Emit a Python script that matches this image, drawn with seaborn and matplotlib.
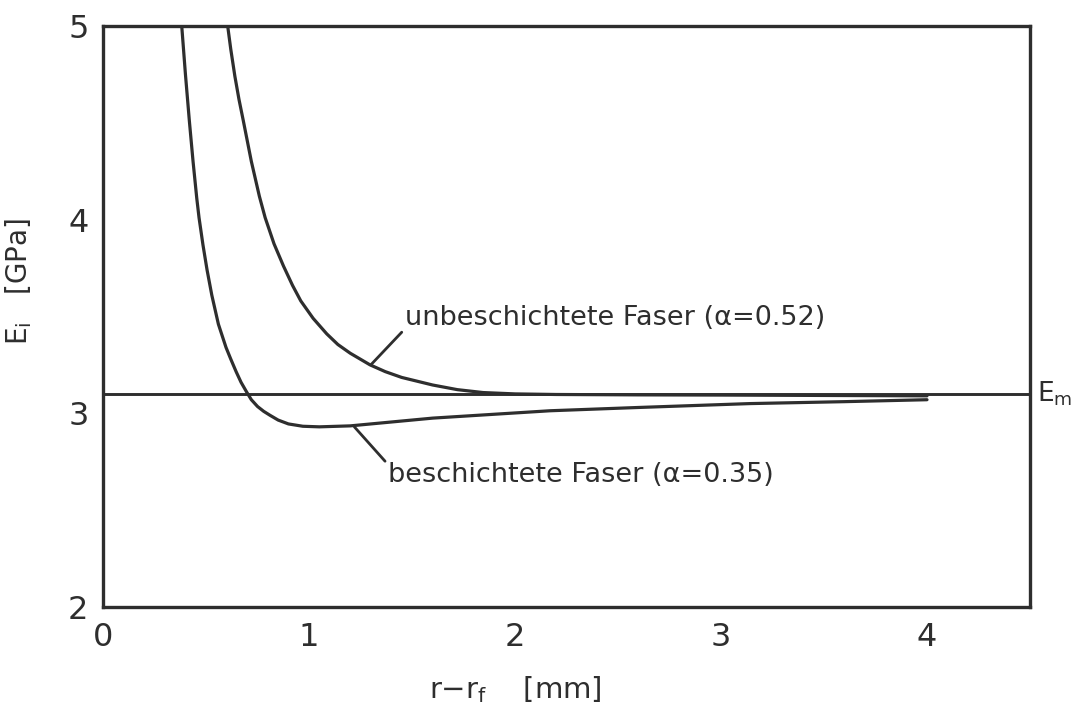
import matplotlib
matplotlib.use("Agg")
import matplotlib.pyplot as plt
import seaborn as sns
import pandas as pd

# Data
coated_x = [0.382, 0.40, 0.419, 0.437, 0.455, 0.466, 0.485, 0.505, 0.528, 0.56, 0.597, 0.62,
            0.646, 0.67, 0.697, 0.72, 0.75, 0.78, 0.81, 0.85, 0.90, 0.97, 1.05, 1.2, 1.4,
            1.6, 1.9, 2.17, 2.6, 3.14, 3.6, 4.0]
coated_y = [5.0, 4.75, 4.51, 4.30, 4.11, 4.01, 3.87, 3.74, 3.61, 3.46, 3.34, 3.28,
            3.215, 3.16, 3.11, 3.07, 3.035, 3.01, 2.99, 2.965, 2.945, 2.933, 2.93, 2.935, 2.955,
            2.975, 2.995, 3.013, 3.03, 3.05, 3.06, 3.07]

uncoated_x = [0.605, 0.62, 0.64, 0.66, 0.681, 0.72, 0.759, 0.787, 0.83, 0.876, 0.92, 0.96,
              1.02, 1.086, 1.14, 1.2, 1.296, 1.37, 1.45, 1.6, 1.72, 1.845, 2.0, 2.2, 2.6,
              3.0, 3.5, 4.0]
uncoated_y = [5.0, 4.88, 4.74, 4.62, 4.51, 4.30, 4.12, 4.01, 3.875, 3.76, 3.66, 3.58,
              3.49, 3.41, 3.355, 3.31, 3.25, 3.215, 3.185, 3.146, 3.122, 3.107, 3.10, 3.097, 3.095,
              3.094, 3.092, 3.09]

E_m = 3.1
x_ticks = [0, 1, 2, 3, 4]
y_ticks = [2, 3, 4, 5]

label_uncoated = "unbeschichtete Faser (α=0.52)"
label_coated = "beschichtete Faser (α=0.35)"

sns.set_style("white")
plt.rcParams['font.family'] = ['DejaVu Sans']

ink = "#2e2e2e"
fig = plt.figure(figsize=(10.8, 7.17), dpi=100)
ax = fig.add_axes([0.0954, 0.1534, 0.8583, 0.8106])

df_c = pd.DataFrame({"x": coated_x, "y": coated_y})
df_u = pd.DataFrame({"x": uncoated_x, "y": uncoated_y})
sns.lineplot(data=df_c, x="x", y="y", ax=ax, color=ink, lw=2.3, sort=False)
sns.lineplot(data=df_u, x="x", y="y", ax=ax, color=ink, lw=2.3, sort=False)
ax.axhline(E_m, color=ink, lw=2.1)

ax.set_xlim(0, 4.5)
ax.set_ylim(2, 5)
ax.set_xticks(x_ticks)
ax.set_yticks(y_ticks)
ax.set_xticklabels([str(v) for v in x_ticks])
ax.set_yticklabels([str(v) for v in y_ticks])
ax.tick_params(direction='inout', length=13, width=2, color=ink,
               labelsize=23, labelcolor=ink, pad=4)
for s in ax.spines.values():
    s.set_color(ink)
    s.set_linewidth(2.4)

ax.set_xlabel(r"r$-$r$_\mathrm{f}$    [mm]", fontsize=21, color=ink)
ax.xaxis.set_label_coords(0.445, -0.115)
ax.set_ylabel(r"E$_\mathrm{i}$   [GPa]", fontsize=20, color=ink)
ax.yaxis.set_label_coords(-0.075, 0.56)

# annotations
ax.annotate(label_uncoated, xy=(1.30, 3.25), xytext=(1.466, 3.49),
            fontsize=19.5, color=ink, va='center', ha='left',
            arrowprops=dict(arrowstyle='-', color=ink, lw=2, shrinkA=0, shrinkB=0,
                            relpos=(0, 0.1)))
ax.annotate(label_coated, xy=(1.22, 2.93), xytext=(1.385, 2.68),
            fontsize=19.5, color=ink, va='center', ha='left',
            arrowprops=dict(arrowstyle='-', color=ink, lw=2, shrinkA=0, shrinkB=0,
                            relpos=(0, 0.9)))
ax.text(4.535, 3.1, r"E$_\mathrm{m}$", fontsize=19, color=ink, va='center',
        ha='left', clip_on=False)

fig.savefig("out.png", dpi=100)
